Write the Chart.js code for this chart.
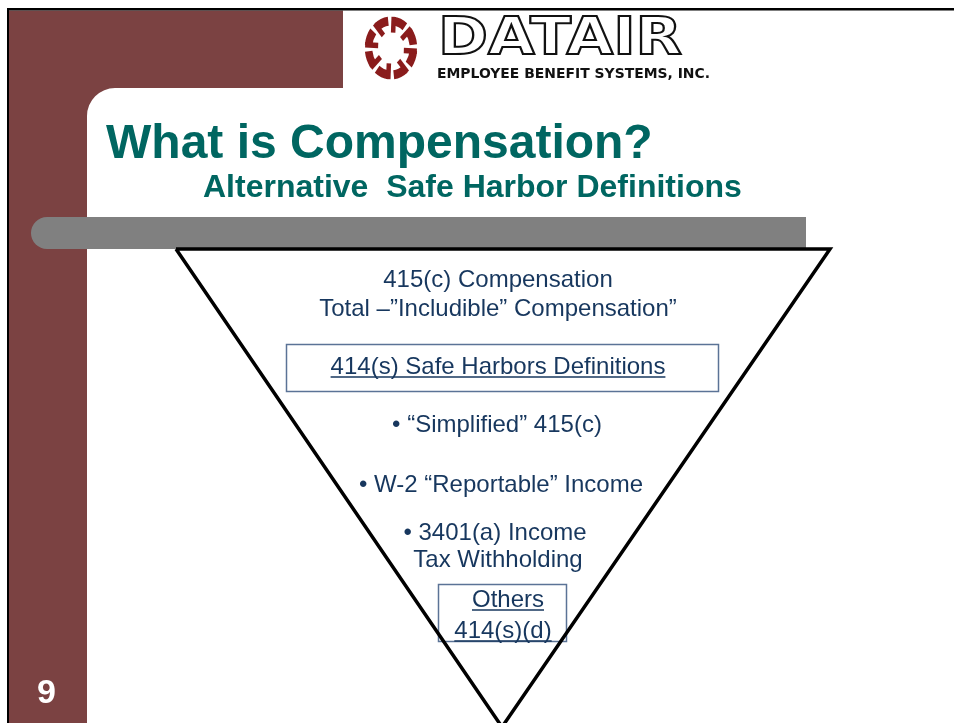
<!DOCTYPE html>
<html>
<head>
<meta charset="utf-8">
<script src="https://cdn.jsdelivr.net/npm/chart.js@4.4.1/dist/chart.umd.min.js"></script>
<style>
  html, body { margin: 0; padding: 0; background: #fff; }
  canvas { display: block; }
</style>
</head>
<body>
<canvas id="slide" width="954" height="723"></canvas>
<script>
// --- data ---
const funnelX = [176, 830, 502, 176];
const funnelY = [249, 249, 727, 249];

const slideTitle = "What is Compensation?";
const slideSubtitle = "Alternative  Safe Harbor Definitions";
const pageNumber = "9";
const brandName = "DATAIR";
const brandTagline = "EMPLOYEE BENEFIT SYSTEMS, INC.";

const funnelLabels = [
  "415(c) Compensation",
  "Total \u2013\u201dIncludible\u201d Compensation\u201d",
  "414(s) Safe Harbors Definitions",
  "\u2022 \u201cSimplified\u201d 415(c)",
  "\u2022 W-2 \u201cReportable\u201d Income",
  "\u2022 3401(a) Income",
  "Tax Withholding",
  "Others",
  "414(s)(d)",
];
const underlined = [false, false, true, false, false, false, false, true, true];

// layout (pixels)
const labelPos = [
  [498, 287], [498, 316], [498, 374], [497, 432], [501, 492],
  [495, 540], [498, 567], [508, 607], [503, 638],
];
const boxes = [
  [286.5, 344.5, 432, 47],
  [438.5, 584.5, 128, 57],
];

const MAROON = "#7b4242";
const TEAL = "#006661";
const NAVY = "#17375e";
const FONT = "'Liberation Sans', Arial, sans-serif";

function drawEmblem(ctx, cx, cy) {
  ctx.save();
  ctx.translate(cx, cy);
  ctx.scale(1, 1.2);
  ctx.strokeStyle = "#8a1c1c";
  ctx.lineCap = "butt";
  for (let i = 0; i < 8; i++) {
    const a0 = (i * 45 - 90 + 6) * Math.PI / 180;
    const a1 = a0 + 32 * Math.PI / 180;
    ctx.lineWidth = 7.5;
    ctx.beginPath();
    ctx.arc(0, 0, 22.5, a0, a1);
    ctx.stroke();
    // spur pointing inwards
    ctx.lineWidth = 4.5;
    ctx.beginPath();
    ctx.moveTo(Math.cos(a0) * 26, Math.sin(a0) * 26);
    ctx.lineTo(Math.cos(a0 + 0.06) * 13, Math.sin(a0 + 0.06) * 13);
    ctx.stroke();
  }
  ctx.restore();
}

const slideBackground = {
  id: "slideBackground",
  beforeDatasetsDraw(chart) {
    const ctx = chart.ctx;
    ctx.save();
    ctx.fillStyle = "#fff";
    ctx.fillRect(0, 0, chart.width, chart.height);

    // maroon frame with rounded inner corner
    ctx.fillStyle = MAROON;
    ctx.beginPath();
    ctx.moveTo(9, 10.5);
    ctx.lineTo(343, 10.5);
    ctx.lineTo(343, 88);
    ctx.lineTo(115, 88);
    ctx.arcTo(87, 88, 87, 116, 28);
    ctx.lineTo(87, 723);
    ctx.lineTo(9, 723);
    ctx.closePath();
    ctx.fill();

    // black border
    ctx.fillStyle = "#000";
    ctx.fillRect(7, 8, 947, 2.5);
    ctx.fillRect(7, 8, 2, 715);

    // grey bar
    ctx.fillStyle = "#808080";
    ctx.beginPath();
    ctx.moveTo(47, 217);
    ctx.lineTo(806, 217);
    ctx.lineTo(806, 249);
    ctx.lineTo(47, 249);
    ctx.arc(47, 233, 16, Math.PI / 2, Math.PI * 1.5);
    ctx.closePath();
    ctx.fill();

    // logo
    drawEmblem(ctx, 391, 48);
    ctx.font = "bold 52px 'DejaVu Sans', sans-serif";
    const bw = ctx.measureText(brandName).width;
    ctx.save();
    ctx.translate(438, 54);
    ctx.scale(244 / bw, 1);
    ctx.fillStyle = "#fff";
    ctx.strokeStyle = "#111";
    ctx.lineWidth = 2;
    ctx.lineJoin = "miter";
    ctx.fillText(brandName, 0, 0);
    ctx.strokeText(brandName, 0, 0);
    ctx.restore();

    ctx.font = "bold 14px 'DejaVu Sans', sans-serif";
    const tw = ctx.measureText(brandTagline).width;
    ctx.save();
    ctx.translate(437, 78);
    ctx.scale(273 / tw, 1);
    ctx.fillStyle = "#111";
    ctx.fillText(brandTagline, 0, 0);
    ctx.restore();

    // title
    ctx.fillStyle = TEAL;
    ctx.textAlign = "left";
    ctx.textBaseline = "alphabetic";
    ctx.font = "bold 48px " + FONT;
    ctx.fillText(slideTitle, 106, 158);
    ctx.font = "bold 32px " + FONT;
    ctx.fillText(slideSubtitle, 203, 197);

    // page number
    ctx.fillStyle = "#fff";
    ctx.font = "bold 34px " + FONT;
    ctx.fillText(pageNumber, 37, 703);

    // boxes
    ctx.strokeStyle = "#5b7396";
    ctx.lineWidth = 1.5;
    boxes.forEach(([x, y, w, h]) => ctx.strokeRect(x, y, w, h));
    ctx.restore();
  },
};

const funnelText = {
  id: "funnelText",
  afterDatasetsDraw(chart) {
    const ctx = chart.ctx;
    ctx.save();
    ctx.fillStyle = NAVY;
    ctx.strokeStyle = NAVY;
    ctx.font = "24px " + FONT;
    ctx.textAlign = "center";
    ctx.textBaseline = "alphabetic";
    funnelLabels.forEach((txt, i) => {
      const [x, y] = labelPos[i];
      ctx.fillText(txt, x, y);
      if (underlined[i]) {
        const w = ctx.measureText(txt).width;
        ctx.lineWidth = 1.6;
        ctx.beginPath();
        ctx.moveTo(x - w / 2, y + 3);
        ctx.lineTo(x + w / 2, y + 3);
        ctx.stroke();
      }
    });
    ctx.restore();
  },
};

new Chart(document.getElementById("slide"), {
  type: "scatter",
  data: {
    datasets: [
      {
        data: funnelX.map((x, i) => ({ x: x, y: funnelY[i] })),
        showLine: true,
        borderColor: "#000",
        borderWidth: 3.5,
        borderJoinStyle: "miter",
        pointRadius: 0,
        fill: false,
        tension: 0,
        clip: false,
      },
    ],
  },
  options: {
    responsive: false,
    animation: false,
    events: [],
    layout: { padding: 0 },
    plugins: {
      legend: { display: false },
      tooltip: { enabled: false },
    },
    scales: {
      x: { type: "linear", min: 0, max: 954, display: false },
      y: { type: "linear", min: 0, max: 723, reverse: true, display: false },
    },
  },
  plugins: [slideBackground, funnelText],
});
</script>
</body>
</html>
